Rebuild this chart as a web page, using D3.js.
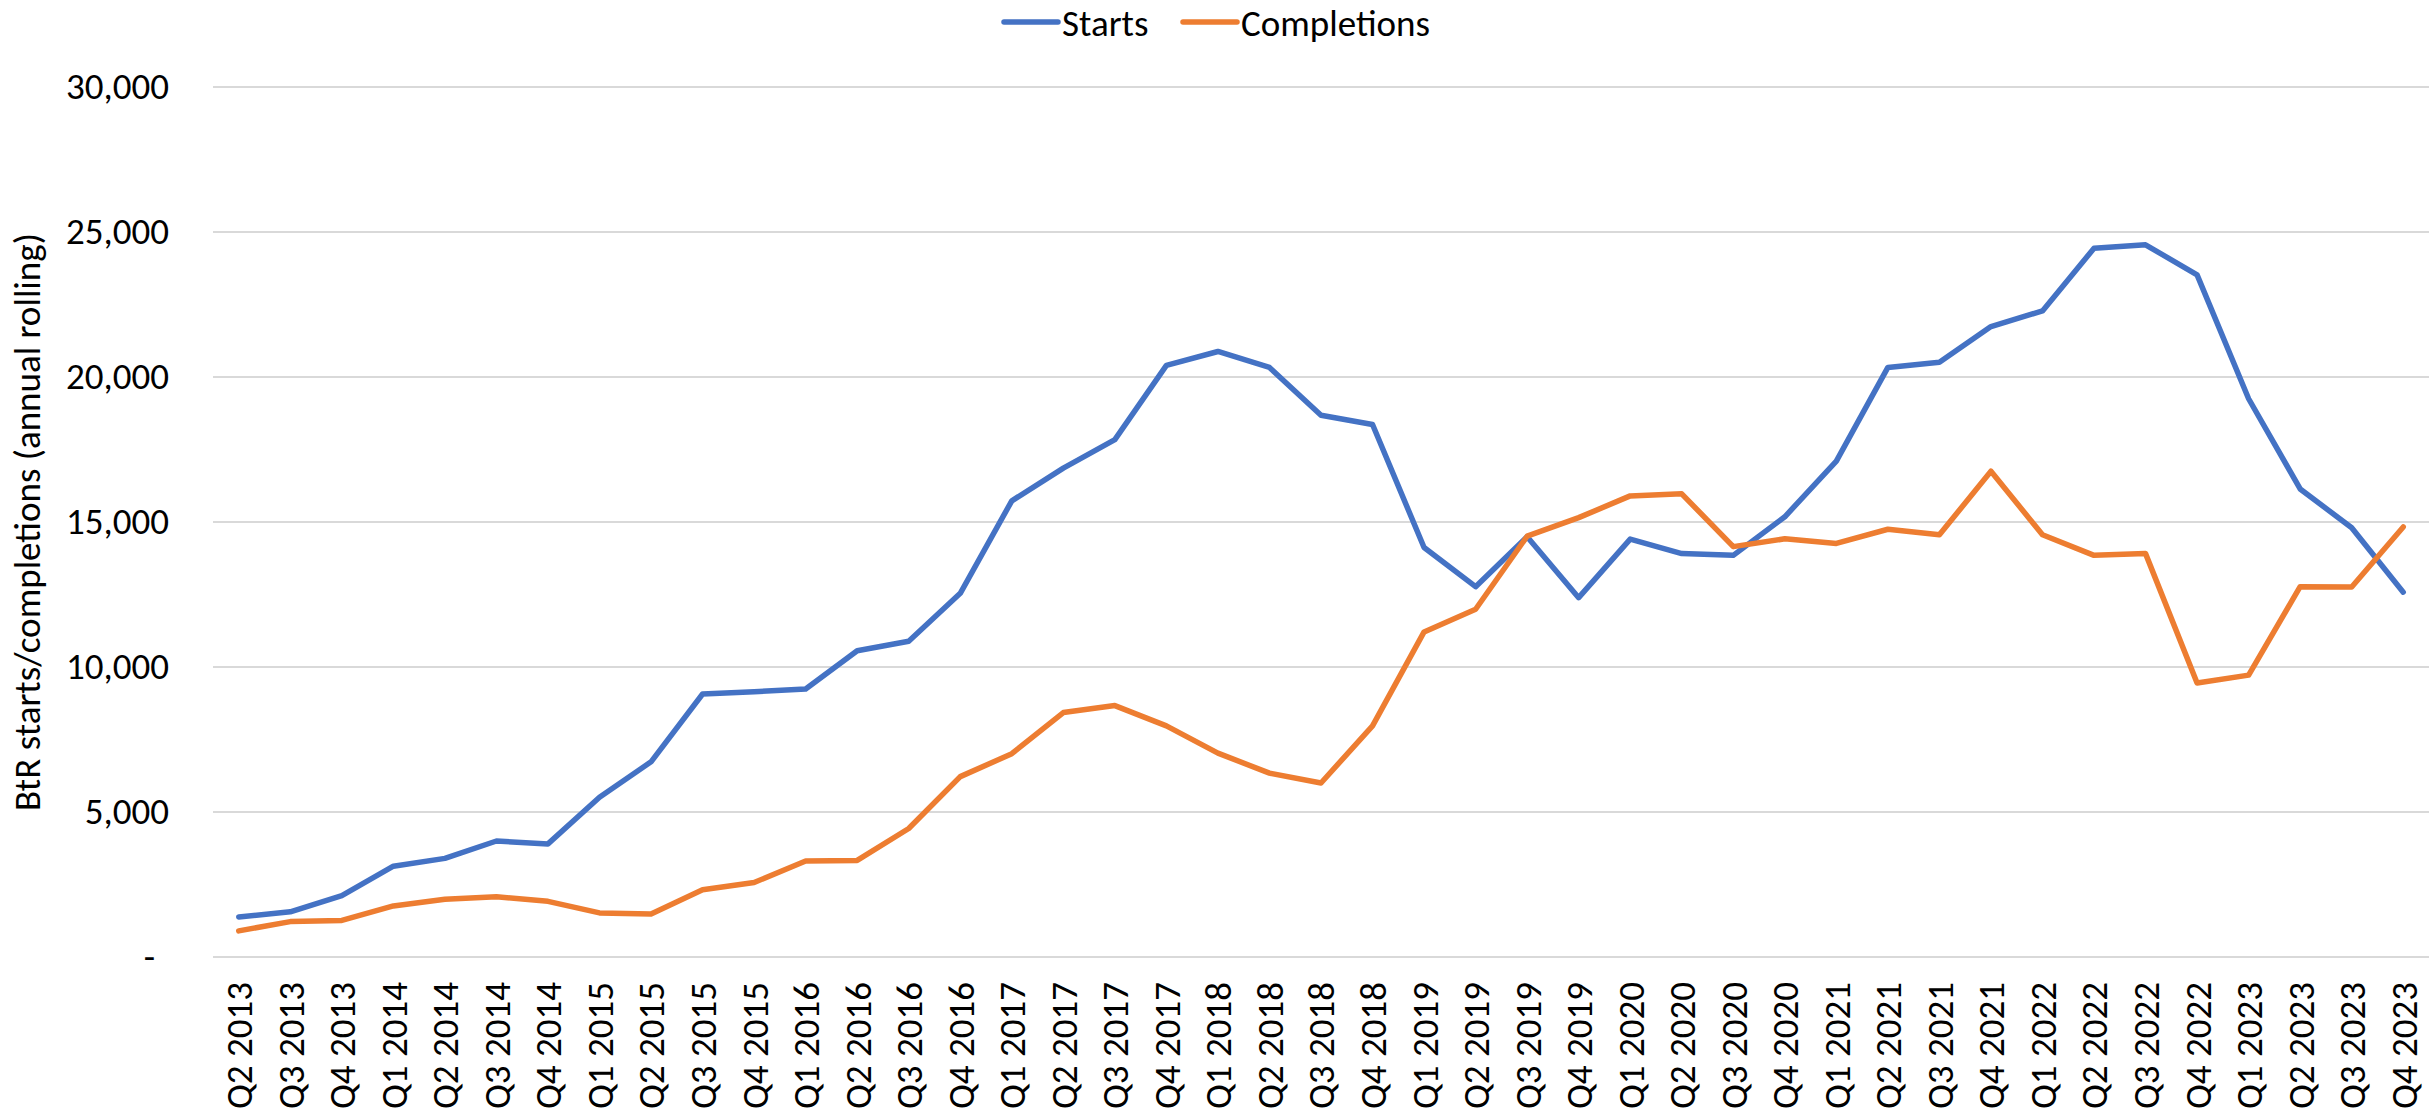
<!DOCTYPE html>
<html>
 <head>
  <title>BtR starts and completions</title>
  <style>
   body { margin: 0; background: #fff; }
   svg { display: block; font-family: Carlito, Calibri, Lato, sans-serif; }
  </style>
  <script src="https://cdnjs.cloudflare.com/ajax/libs/d3/7.8.5/d3.min.js"></script>
 </head>
 <body>
  <script>
   // quarters on the category axis
   const quarters = ["Q2 2013","Q3 2013","Q4 2013",
     "Q1 2014","Q2 2014","Q3 2014","Q4 2014",
     "Q1 2015","Q2 2015","Q3 2015","Q4 2015",
     "Q1 2016","Q2 2016","Q3 2016","Q4 2016",
     "Q1 2017","Q2 2017","Q3 2017","Q4 2017",
     "Q1 2018","Q2 2018","Q3 2018","Q4 2018",
     "Q1 2019","Q2 2019","Q3 2019","Q4 2019",
     "Q1 2020","Q2 2020","Q3 2020","Q4 2020",
     "Q1 2021","Q2 2021","Q3 2021","Q4 2021",
     "Q1 2022","Q2 2022","Q3 2022","Q4 2022",
     "Q1 2023","Q2 2023","Q3 2023","Q4 2023"];

   const starts = [1380, 1560, 2120, 3130, 3400, 4000, 3900, 5510, 6730, 9070, 9150,
     9240, 10560, 10890, 12540, 15730, 16860, 17840, 20400, 20880, 20330, 18680, 18360,
     14120, 12770, 14490, 12390, 14410, 13910, 13850, 15180, 17100, 20330, 20510, 21740,
     22280, 24440, 24560, 23520, 19250, 16140, 14800, 12580];

   const completions = [900, 1220, 1260, 1760, 1990, 2080, 1920, 1520, 1480, 2320, 2570,
     3310, 3330, 4430, 6220, 7010, 8430, 8670, 7970, 7030, 6340, 6000, 7970,
     11210, 11990, 14510, 15150, 15900, 15970, 14150, 14420, 14260, 14750, 14560, 16750,
     14560, 13850, 13910, 9450, 9720, 12770, 12760, 14830];

   const yTicks = [0, 5000, 10000, 15000, 20000, 25000, 30000];
   const seriesNames = ["Starts", "Completions"];
   const colors = ["#4472C4", "#ED7D31"];
   const yTitle = "BtR starts/completions (annual rolling)";

   const w = 2432, h = 1110;
   const plotL = 213, plotR = 2429, plotT = 87, plotB = 957;
   const fs = 37;
   const lw = 5.5;

   const svg = d3.select("body").append("svg")
                 .attr("width", w)
                 .attr("height", h);

   const x = d3.scalePoint()
               .domain(quarters)
               .range([plotL, plotR])
               .padding(0.5);
   const y = d3.scaleLinear()
               .domain([0, 30000])
               .range([plotB, plotT]);

   // gridlines
   svg.append("g")
      .selectAll("line")
      .data(yTicks)
      .enter()
      .append("line")
      .attr("x1", plotL)
      .attr("x2", plotR)
      .attr("y1", d => y(d))
      .attr("y2", d => y(d))
      .attr("stroke", "#d9d9d9")
      .attr("stroke-width", 2);

   // y axis
   const yAxis = d3.axisLeft(y)
                   .tickValues(yTicks)
                   .tickSize(0)
                   .tickPadding(0)
                   .tickFormat(d => d === 0 ? "-" : d3.format(",")(d));
   const gy = svg.append("g")
                 .attr("transform", "translate(169,0)")
                 .call(yAxis);
   gy.select(".domain").remove();
   gy.attr("font-family", null).attr("font-size", null);
   gy.selectAll("text")
     .attr("font-size", fs)
     .attr("fill", "#000")
     .attr("dx", d => d === 0 ? -14 : 0);

   // x axis
   const xAxis = d3.axisBottom(x).tickSize(0);
   const gx = svg.append("g")
                 .attr("transform", "translate(0," + plotB + ")")
                 .call(xAxis);
   gx.select(".domain").remove();
   gx.attr("font-family", null).attr("font-size", null);
   gx.selectAll("text")
     .attr("font-size", fs)
     .attr("fill", "#000")
     .attr("text-anchor", "end")
     .attr("transform", "rotate(-90)")
     .attr("x", -25)
     .attr("y", 0)
     .attr("dy", "0.35em");

   // y title
   svg.append("text")
      .attr("transform", "translate(40," + ((plotT + plotB) / 2) + ") rotate(-90)")
      .attr("text-anchor", "middle")
      .attr("font-size", fs)
      .text(yTitle);

   // lines
   const line = d3.line()
                  .x((d, i) => x(quarters[i]))
                  .y(d => y(d));
   [starts, completions].forEach((s, k) => {
     svg.append("path")
        .datum(s)
        .attr("d", line)
        .attr("fill", "none")
        .attr("stroke", colors[k])
        .attr("stroke-width", lw)
        .attr("stroke-linejoin", "round")
        .attr("stroke-linecap", "round");
   });

   // legend
   const legX = [1004, 1183];
   const legY = 23;
   const legend = svg.append("g");
   legend.selectAll("line")
         .data(seriesNames)
         .enter()
         .append("line")
         .attr("x1", (d, i) => legX[i])
         .attr("x2", (d, i) => legX[i] + 54)
         .attr("y1", legY - 1)
         .attr("y2", legY - 1)
         .attr("stroke", (d, i) => colors[i])
         .attr("stroke-width", lw)
         .attr("stroke-linecap", "round");
   legend.selectAll("text")
         .data(seriesNames)
         .enter()
         .append("text")
         .attr("x", (d, i) => legX[i] + 58)
         .attr("y", legY)
         .attr("dy", "0.35em")
         .attr("font-size", fs)
         .text(d => d);
  </script>
 </body>
</html>
